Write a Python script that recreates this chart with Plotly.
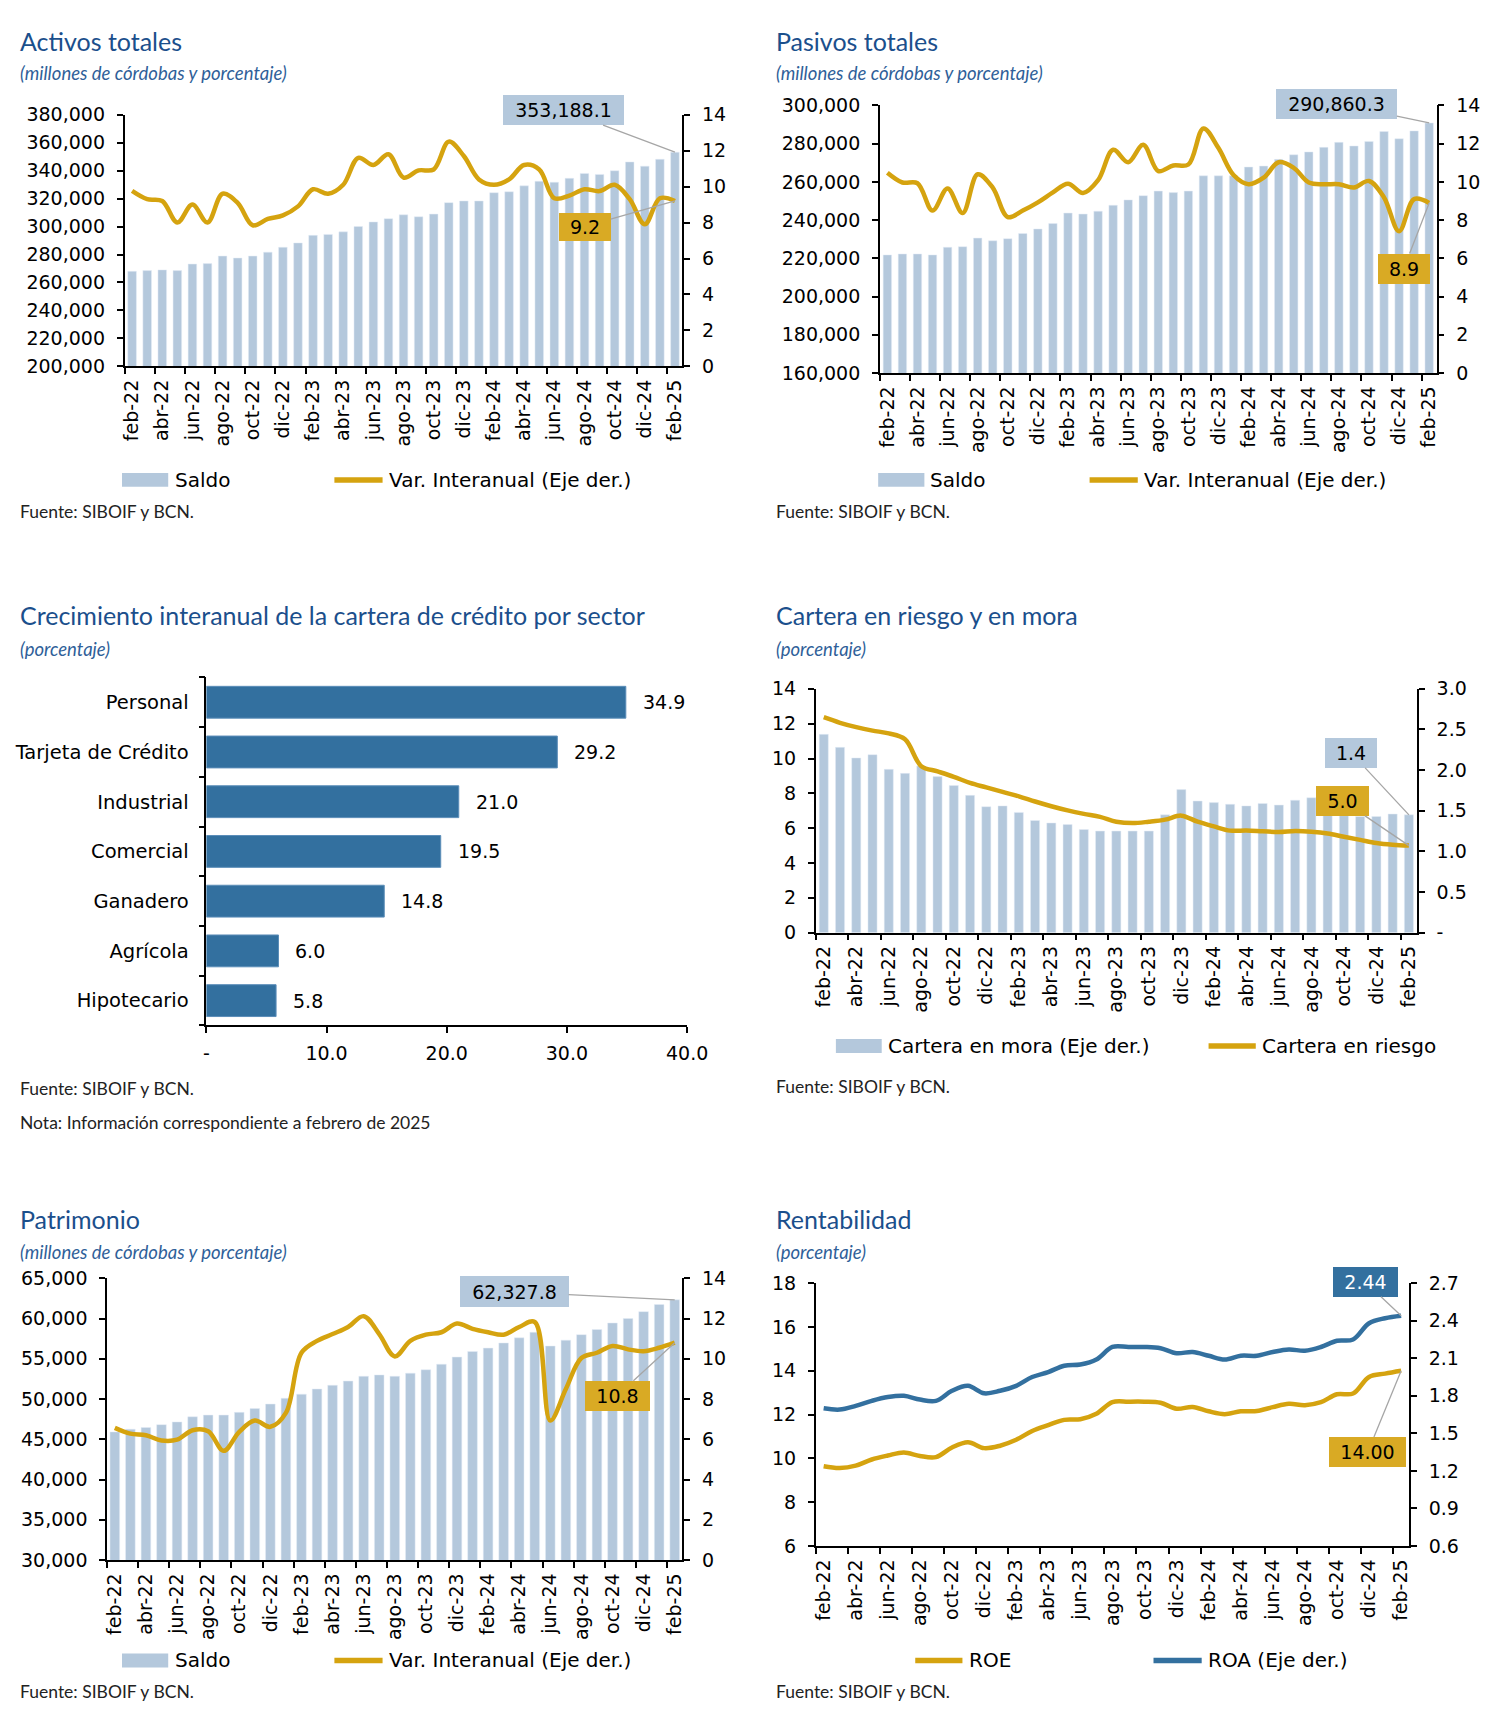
import plotly.graph_objects as go

W, H = 1499, 1723

meses = ["feb-22", "mar-22", "abr-22", "may-22", "jun-22", "jul-22", "ago-22", "sep-22", "oct-22", "nov-22", "dic-22",
         "ene-23", "feb-23", "mar-23", "abr-23", "may-23", "jun-23", "jul-23", "ago-23", "sep-23", "oct-23", "nov-23", "dic-23",
         "ene-24", "feb-24", "mar-24", "abr-24", "may-24", "jun-24", "jul-24", "ago-24", "sep-24", "oct-24", "nov-24", "dic-24",
         "ene-25", "feb-25"]

activos_saldo = [268000, 268500, 269000, 268500, 273200, 273500, 278900, 277500, 278900, 281700, 285200,
                 288300, 293700, 294400, 296200, 300000, 303300, 305600, 308400, 307000, 308900, 317100, 318300,
                 318300, 324200, 324900, 329100, 332400, 331700, 334500, 338000, 337300, 339900, 346200, 343200,
                 348100, 353188.1]
activos_var = [9.76, 9.3, 9.2, 8.0, 9.0, 8.0, 9.6, 9.1, 7.85, 8.2, 8.4,
               8.9, 9.85, 9.6, 10.1, 11.6, 11.2, 11.8, 10.5, 10.9, 10.95, 12.5, 11.7,
               10.4, 10.1, 10.4, 11.2, 10.95, 9.35, 9.5, 9.85, 9.75, 10.1, 9.3, 7.9,
               9.35, 9.2]

pasivos_saldo = [221800, 222300, 222300, 221800, 225800, 226100, 230600, 229200, 230300, 233000, 235400,
                 238200, 243700, 243200, 244700, 247800, 250600, 252800, 255200, 254400, 255200, 263200, 263200,
                 263200, 267800, 268300, 271800, 274200, 275700, 278100, 280700, 278800, 281200, 286400, 282600,
                 286700, 290860.3]
pasivos_var = [10.48, 9.97, 9.93, 8.5, 9.66, 8.37, 10.4, 9.7, 8.16, 8.5, 8.93,
               9.45, 9.91, 9.42, 10.09, 11.68, 11.03, 11.94, 10.57, 10.86, 10.91, 12.8, 11.77,
               10.36, 9.88, 10.22, 11.03, 10.74, 9.97, 9.88, 9.88, 9.71, 10.05, 9.19, 7.42,
               9.1, 8.9]

sectores = ["Personal", "Tarjeta de Crédito", "Industrial", "Comercial", "Ganadero", "Agrícola", "Hipotecario"]
crecimiento_sector = [34.9, 29.2, 21.0, 19.5, 14.8, 6.0, 5.8]

cartera_mora = [2.44, 2.28, 2.15, 2.19, 2.01, 1.96, 2.05, 1.92, 1.81, 1.69, 1.55,
                1.56, 1.48, 1.38, 1.35, 1.33, 1.27, 1.25, 1.25, 1.25, 1.25, 1.45, 1.76,
                1.62, 1.60, 1.58, 1.56, 1.59, 1.57, 1.63, 1.66, 1.50, 1.44, 1.43, 1.43,
                1.46, 1.45]
cartera_riesgo = [12.37, 12.05, 11.8, 11.6, 11.44, 11.1, 9.56, 9.26, 8.95, 8.6, 8.34,
                  8.08, 7.83, 7.53, 7.26, 7.02, 6.82, 6.65, 6.37, 6.29, 6.37, 6.49, 6.72,
                  6.37, 6.1, 5.86, 5.86, 5.82, 5.78, 5.84, 5.8, 5.7, 5.51, 5.33, 5.15,
                  5.05, 5.0]

patrimonio_saldo = [45920, 46260, 46470, 46820, 47160, 47800, 48010, 48010, 48350, 48820, 49380,
                    50100, 50610, 51250, 51720, 52240, 52830, 53000, 52830, 53220, 53640, 54330, 55220,
                    55910, 56330, 56970, 57610, 58300, 56590, 57320, 58000, 58640, 59450, 60000, 60860,
                    61750, 62327.8]
patrimonio_var = [6.57, 6.28, 6.2, 5.94, 5.98, 6.45, 6.4, 5.43, 6.37, 6.93, 6.62,
                  7.31, 10.3, 10.89, 11.23, 11.58, 12.12, 11.23, 10.12, 10.89, 11.2, 11.32, 11.75,
                  11.49, 11.32, 11.2, 11.58, 11.83, 6.93, 8.5, 10.04, 10.3, 10.64, 10.47, 10.38,
                  10.55, 10.8]

roe = [9.64, 9.56, 9.67, 9.95, 10.13, 10.27, 10.11, 10.06, 10.5, 10.74, 10.47,
       10.58, 10.85, 11.25, 11.52, 11.76, 11.79, 12.04, 12.57, 12.59, 12.59, 12.54, 12.27,
       12.35, 12.15, 12.02, 12.15, 12.16, 12.34, 12.49, 12.43, 12.57, 12.93, 12.96, 13.72,
       13.87, 14.0]
roa = [1.70, 1.69, 1.72, 1.76, 1.79, 1.80, 1.77, 1.76, 1.84, 1.88, 1.82,
       1.84, 1.88, 1.95, 1.99, 2.04, 2.05, 2.09, 2.19, 2.19, 2.19, 2.18, 2.14,
       2.15, 2.12, 2.09, 2.12, 2.12, 2.15, 2.17, 2.16, 2.19, 2.24, 2.25, 2.38,
       2.42, 2.44]

# ---------------- styles ----------------
C_BAR = "#B4C8DC"
C_GOLD = "#D5A30F"
C_GOLD_BOX = "#D9AA24"
C_BLUE = "#33709F"
C_TITLE = "#1B4F8C"
C_SUB = "#2F5F99"
C_AX = "#000000"
TICK_FONT = dict(family="DejaVu Sans", size=19, color="#000000")
CAT_FONT = dict(family="DejaVu Sans", size=19.5, color="#000000")
LEG_FONT = dict(family="DejaVu Sans", size=20, color="#000000")
TITLE_FONT = dict(family="Lato", size=25, color=C_TITLE)
SUB_FONT = dict(family="Lato", size=18.5, color=C_SUB, style="italic")
SRC_FONT = dict(family="Lato", size=17.5, color="#222222")

idx = list(range(len(meses)))
XR = [-0.5, len(meses) - 0.5]

# plot areas in pixels (left, right, top, bottom)
P = {
    1: dict(l=122.6, r=690.0, t=105.0, b=360.0),
    2: dict(l=890.7, r=1457.0, t=95.7, b=366.7),
    3: dict(l=205.8, r=694.7, t=675.0, b=1027.6),
    4: dict(l=825.4, r=1437.0, t=686.6, b=933.6),
    5: dict(l=104.8, r=690.0, t=1283.7, b=1569.1),
    6: dict(l=825.4, r=1429.0, t=1288.6, b=1554.9),
}


def xd(p):
    return [P[p]["l"] / W, P[p]["r"] / W]


def yd(p):
    return [1 - P[p]["b"] / H, 1 - P[p]["t"] / H]


def month_axis(p, anchor):
    return dict(domain=xd(p), anchor=anchor, range=XR, tickmode="array",
                tickvals=idx[::2], ticktext=meses[::2], tickangle=-90, ticks="",
                showline=True, linecolor=C_AX, linewidth=1.5, showgrid=False, zeroline=False,
                tickfont=TICK_FONT, ticklabelstandoff=4,
                minor=dict(tickmode="array", tickvals=[i - 0.5 for i in idx[::2]], ticks="outside",
                           ticklen=6, tickwidth=1.5, tickcolor=C_AX, showgrid=False))


def val_axis(p, anchor, rng, dtick, side="left", overlay=None, fmt=None, tickvals=None, ticktext=None):
    d = dict(anchor=anchor, range=rng, side=side, showline=True, linecolor=C_AX, linewidth=1.5,
             ticks="outside", ticklen=6, tickwidth=1.5, tickcolor=C_AX, showgrid=False, zeroline=False,
             tickfont=TICK_FONT, ticklabelstandoff=8)
    if overlay:
        d["overlaying"] = overlay
    else:
        d["domain"] = yd(p)
    if tickvals is not None:
        d.update(tickmode="array", tickvals=tickvals, ticktext=ticktext)
    else:
        d.update(tick0=rng[0], dtick=dtick)
    if fmt:
        d["tickformat"] = fmt
    return d


def spline(color):
    return dict(color=color, width=4.5, shape="spline", smoothing=1.0)


fig = go.Figure()

# Panel 1: Activos
fig.add_trace(go.Bar(x=idx, y=activos_saldo, xaxis="x", yaxis="y", marker_color=C_BAR, width=0.57, showlegend=False))
fig.add_trace(go.Scatter(x=idx, y=activos_var, xaxis="x", yaxis="y2", mode="lines", line=spline(C_GOLD), showlegend=False))
# Panel 2: Pasivos
fig.add_trace(go.Bar(x=idx, y=pasivos_saldo, xaxis="x2", yaxis="y3", marker_color=C_BAR, width=0.56, showlegend=False))
fig.add_trace(go.Scatter(x=idx, y=pasivos_var, xaxis="x2", yaxis="y4", mode="lines", line=spline(C_GOLD), showlegend=False))
# Panel 3: sectores
fig.add_trace(go.Bar(x=crecimiento_sector, y=list(range(len(sectores))), orientation="h", xaxis="x3", yaxis="y5",
                     marker=dict(color=C_BLUE, line=dict(color="#5B8DB8", width=1)), width=0.64, showlegend=False))
# Panel 4: cartera (bars on right axis = base y6, line on left overlay y7)
fig.add_trace(go.Bar(x=idx, y=cartera_mora, xaxis="x4", yaxis="y6", marker_color=C_BAR, width=0.56, showlegend=False))
fig.add_trace(go.Scatter(x=idx, y=cartera_riesgo, xaxis="x4", yaxis="y7", mode="lines", line=spline(C_GOLD), showlegend=False))
# Panel 5: Patrimonio
fig.add_trace(go.Bar(x=idx, y=patrimonio_saldo, xaxis="x5", yaxis="y8", marker_color=C_BAR, width=0.62, showlegend=False))
fig.add_trace(go.Scatter(x=idx, y=patrimonio_var, xaxis="x5", yaxis="y9", mode="lines", line=spline(C_GOLD), showlegend=False))
# Panel 6: Rentabilidad
fig.add_trace(go.Scatter(x=idx, y=roe, xaxis="x6", yaxis="y10", mode="lines", line=spline(C_GOLD), showlegend=False))
fig.add_trace(go.Scatter(x=idx, y=roa, xaxis="x6", yaxis="y11", mode="lines", line=spline(C_BLUE), showlegend=False))

layout = dict(
    width=W, height=H, margin=dict(l=0, r=0, t=0, b=0), paper_bgcolor="white", plot_bgcolor="rgba(0,0,0,0)",
    xaxis=month_axis(1, "y"),
    yaxis=val_axis(1, "x", [200000, 380000], 20000, fmt=","),
    yaxis2=val_axis(1, "x", [0, 14], 2, side="right", overlay="y"),
    xaxis2=month_axis(2, "y3"),
    yaxis3=val_axis(2, "x2", [160000, 300000], 20000, fmt=","),
    yaxis4=val_axis(2, "x2", [0, 14], 2, side="right", overlay="y3"),
    xaxis3=dict(domain=xd(3), anchor="y5", range=[0, 40], tickmode="array", tickvals=[0, 10, 20, 30, 40],
                ticktext=["-", "10.0", "20.0", "30.0", "40.0"], ticks="outside", ticklen=6, tickwidth=1.5,
                tickcolor=C_AX, showline=True, linecolor=C_AX, linewidth=1.5, showgrid=False, zeroline=False,
                tickfont=TICK_FONT, ticklabelstandoff=4),
    yaxis5=dict(domain=yd(3), anchor="x3", range=[len(sectores) - 0.5, -0.5], tickmode="array",
                tickvals=list(range(len(sectores))), ticktext=sectores, ticks="", showline=True, linecolor=C_AX,
                linewidth=1.5, showgrid=False, zeroline=False, tickfont=CAT_FONT, ticklabelstandoff=12,
                minor=dict(tickmode="array", tickvals=[i - 0.5 for i in range(len(sectores) + 1)],
                           ticks="outside", ticklen=6, tickwidth=1.5, tickcolor=C_AX, showgrid=False)),
    xaxis4=month_axis(4, "y6"),
    yaxis6=val_axis(4, "x4", [0, 3], 0.5, side="right", tickvals=[0, 0.5, 1, 1.5, 2, 2.5, 3],
                    ticktext=["-", "0.5", "1.0", "1.5", "2.0", "2.5", "3.0"]),
    yaxis7=val_axis(4, "x4", [0, 14], 2, side="left", overlay="y6"),
    xaxis5=month_axis(5, "y8"),
    yaxis8=val_axis(5, "x5", [30000, 65000], 5000, fmt=","),
    yaxis9=val_axis(5, "x5", [0, 14], 2, side="right", overlay="y8"),
    xaxis6=month_axis(6, "y10"),
    yaxis10=val_axis(6, "x6", [6, 18], 2),
    yaxis11=val_axis(6, "x6", [0.6, 2.7], 0.3, side="right", overlay="y10", fmt=".1f"),
)
fig.update_layout(**layout)

ann = []
shapes = []


def text_at(x, y, s, font, anchor="left"):
    ann.append(dict(x=x / W, y=1 - y / H, xref="paper", yref="paper", text=s, showarrow=False,
                    xanchor=anchor, yanchor="middle", font=font))


# titles / subtitles / sources
text_at(14, 30, "Activos totales", TITLE_FONT)
text_at(14, 63, "(millones de córdobas y porcentaje)", SUB_FONT)
text_at(14, 507, "Fuente: SIBOIF y BCN.", SRC_FONT)
text_at(782.6, 30, "Pasivos totales", TITLE_FONT)
text_at(782.6, 63, "(millones de córdobas y porcentaje)", SUB_FONT)
text_at(782.6, 507, "Fuente: SIBOIF y BCN.", SRC_FONT)
text_at(14, 612, "Crecimiento interanual de la cartera de crédito por sector", TITLE_FONT)
text_at(14, 646, "(porcentaje)", SUB_FONT)
text_at(14, 1091.5, "Fuente: SIBOIF y BCN.", SRC_FONT)
text_at(14, 1125.6, "Nota: Información correspondiente a febrero de 2025", SRC_FONT)
text_at(782.6, 612, "Cartera en riesgo y en mora", TITLE_FONT)
text_at(782.6, 646, "(porcentaje)", SUB_FONT)
text_at(782.6, 1089.7, "Fuente: SIBOIF y BCN.", SRC_FONT)
text_at(14, 1223.5, "Patrimonio", TITLE_FONT)
text_at(14, 1256.6, "(millones de córdobas y porcentaje)", SUB_FONT)
text_at(14, 1702, "Fuente: SIBOIF y BCN.", SRC_FONT)
text_at(782.6, 1223.5, "Rentabilidad", TITLE_FONT)
text_at(782.6, 1256.6, "(porcentaje)", SUB_FONT)
text_at(782.6, 1702, "Fuente: SIBOIF y BCN.", SRC_FONT)


def leg_rect(x0, x1, y, color, label, tx):
    shapes.append(dict(type="rect", xref="paper", yref="paper", x0=x0 / W, x1=x1 / W,
                       y0=1 - (y + 7) / H, y1=1 - (y - 7) / H, fillcolor=color, line=dict(width=0)))
    text_at(tx, y, label, LEG_FONT)


def leg_line(x0, x1, y, color, label, tx):
    shapes.append(dict(type="line", xref="paper", yref="paper", x0=x0 / W, x1=x1 / W,
                       y0=1 - y / H, y1=1 - y / H, line=dict(color=color, width=5.5)))
    text_at(tx, y, label, LEG_FONT)


leg_rect(120, 167, 475, C_BAR, "Saldo", 172)
leg_line(336, 385, 475, C_GOLD, "Var. Interanual (Eje der.)", 389)
leg_rect(889, 936, 475, C_BAR, "Saldo", 940)
leg_line(1104, 1153, 475, C_GOLD, "Var. Interanual (Eje der.)", 1157)
leg_rect(846, 892.6, 1048.4, C_BAR, "Cartera en mora (Eje der.)", 897)
leg_line(1225, 1273, 1048.4, C_GOLD, "Cartera en riesgo", 1277)
leg_rect(120, 167, 1670.8, C_BAR, "Saldo", 172)
leg_line(336, 385, 1670.8, C_GOLD, "Var. Interanual (Eje der.)", 389)
leg_line(926.7, 974.7, 1670.8, C_GOLD, "ROE", 979)
leg_line(1169, 1218, 1670.8, C_BLUE, "ROA (Eje der.)", 1222)


# value boxes with leader lines
def value_box(p, xref, yref, yv, rng, text, cx, cy, w, h, bg, fcolor="#000000"):
    pl = P[p]
    px = pl["l"] + (idx[-1] - XR[0]) / (XR[1] - XR[0]) * (pl["r"] - pl["l"])
    py = pl["b"] - (yv - rng[0]) / (rng[1] - rng[0]) * (pl["b"] - pl["t"])
    ann.append(dict(x=idx[-1], y=yv, xref=xref, yref=yref, text=text, showarrow=True, arrowhead=0,
                    arrowwidth=1.3, arrowcolor="#A6A6A6", ax=cx - px, ay=cy - py, bgcolor=bg,
                    width=w, height=h, borderpad=0, borderwidth=0,
                    font=dict(family="DejaVu Sans", size=19, color=fcolor)))


value_box(1, "x", "y", activos_saldo[-1], [200000, 380000], f"{activos_saldo[-1]:,.1f}", 570.5, 101, 121, 30, C_BAR)
value_box(1, "x", "y2", activos_var[-1], [0, 14], f"{activos_var[-1]:.1f}", 592, 218, 52, 28, C_GOLD_BOX)
value_box(2, "x2", "y3", pasivos_saldo[-1], [160000, 300000], f"{pasivos_saldo[-1]:,.1f}", 1356.5, 94, 121, 30, C_BAR)
value_box(2, "x2", "y4", pasivos_var[-1], [0, 14], f"{pasivos_var[-1]:.1f}", 1424, 260, 52, 30, C_GOLD_BOX)
value_box(4, "x4", "y6", cartera_mora[-1], [0, 3], f"{cartera_mora[-1]:.1f}", 1371, 752.3, 52, 30, C_BAR)
value_box(4, "x4", "y7", cartera_riesgo[-1], [0, 14], f"{cartera_riesgo[-1]:.1f}", 1362.7, 800.7, 53, 30, C_GOLD_BOX)
value_box(5, "x5", "y8", patrimonio_saldo[-1], [30000, 65000], f"{patrimonio_saldo[-1]:,.1f}", 521.5, 1297.5, 109, 31, C_BAR)
value_box(5, "x5", "y9", patrimonio_var[-1], [0, 14], f"{patrimonio_var[-1]:.1f}", 624.5, 1402, 65, 30, C_GOLD_BOX)
value_box(6, "x6", "y11", roa[-1], [0.6, 2.7], f"{roa[-1]:.2f}", 1384.7, 1287.7, 65, 30, C_BLUE, "#FFFFFF")
value_box(6, "x6", "y10", roe[-1], [6, 18], f"{roe[-1]:.2f}", 1387.5, 1458.7, 77, 30, C_GOLD_BOX)

# bar value labels (panel 3)
for i, v in enumerate(crecimiento_sector):
    ann.append(dict(x=v, y=i, xref="x3", yref="y5", text=f"{v:.1f}", showarrow=False, xanchor="left",
                    yanchor="middle", xshift=15, font=TICK_FONT))

fig.update_layout(annotations=ann, shapes=shapes)

fig.write_html("out.html", config={"displayModeBar": False},
               post_script="document.documentElement.style.margin='0';document.body.style.margin='0';"
                           "document.body.style.padding='0';document.documentElement.style.overflow='hidden';"
                           "document.body.style.overflow='hidden';")
